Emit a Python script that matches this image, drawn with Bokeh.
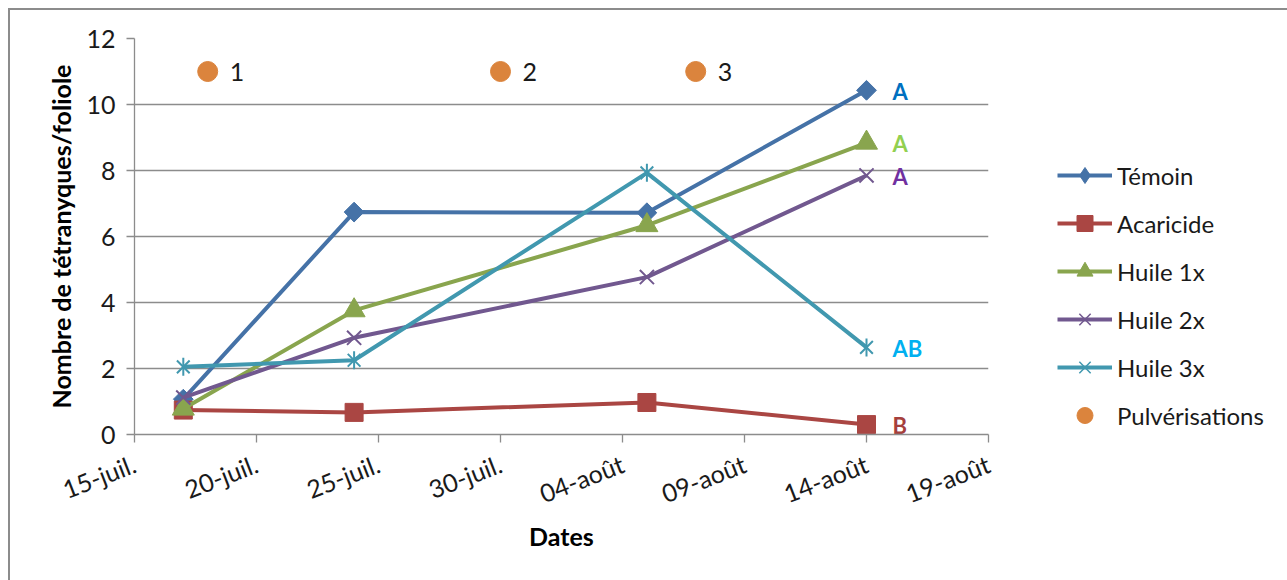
import math
import pandas as pd
from bokeh.plotting import figure
from bokeh.layouts import row
from bokeh.models import Range1d, FixedTicker, Legend, LegendItem
from bokeh.core.properties import value
from bokeh.embed import file_html
from bokeh.resources import INLINE

# Sampling dates and mean counts per leaflet for each treatment
dates = ["2013-07-17", "2013-07-24", "2013-08-05", "2013-08-14"]
temoin = [1.07, 6.74, 6.72, 10.43]
acaricide = [0.74, 0.67, 0.97, 0.30]
huile_1x = [0.78, 3.76, 6.34, 8.84]
huile_2x = [1.12, 2.93, 4.77, 7.85]
huile_3x = [2.05, 2.25, 7.93, 2.64]

# Statistical groups at the last sampling date (same order as the series)
groups = ["A", "B", "A", "A", "AB"]

# Spray applications
spray_dates = ["2013-07-18", "2013-07-30", "2013-08-07"]
spray_level = [11, 11, 11]
spray_labels = ["1", "2", "3"]

# Axis ticks
tick_dates = ["2013-07-15", "2013-07-20", "2013-07-25", "2013-07-30",
              "2013-08-04", "2013-08-09", "2013-08-14", "2013-08-19"]
tick_labels = ["15-juil.", "20-juil.", "25-juil.", "30-juil.",
               "04-août", "09-août", "14-août", "19-août"]
y_ticks = [0, 2, 4, 6, 8, 10, 12]

FONT = "Lato"
GRID = "#8c8c8c"
TEXT = "#1a1a1a"
LW = 4

x = pd.to_datetime(dates)
xs = pd.to_datetime(spray_dates)
xt = pd.to_datetime(tick_dates)
tick_ms = [float(t.value // 10**6) for t in xt]

series = [
    # label, values, colour
    ("Témoin", temoin, "#4572A7"),
    ("Acaricide", acaricide, "#AA4643"),
    ("Huile 1x", huile_1x, "#89A54E"),
    ("Huile 2x", huile_2x, "#71588F"),
    ("Huile 3x", huile_3x, "#4198AF"),
]
SPRAY_COLOR = "#DB843D"


def draw_markers(fig, name, vals, color, in_legend):
    """Markers of one series; legend swatches get the un-rotated equivalents."""
    if name == "Témoin":
        if in_legend:
            return [fig.scatter(x, vals, marker="diamond", fill_color=color, line_color=color)]
        return [fig.scatter(x, vals, marker="square", angle=math.pi / 4, size=14,
                            fill_color=color, line_color=color)]
    if name == "Acaricide":
        return [fig.scatter(x, vals, marker="square", size=18, fill_color=color, line_color=color)]
    if name == "Huile 1x":
        return [fig.scatter(x, vals, marker="triangle", size=22, fill_color=color, line_color=color)]
    if name == "Huile 2x":
        return [fig.scatter(x, vals, marker="x", size=20, line_color=color,
                            line_width=1.5 if in_legend else 2)]
    lw = 1.5 if in_legend else 2
    return [fig.scatter(x, vals, marker="x", size=18, line_color=color, line_width=lw),
            fig.scatter(x, vals, marker="dash", angle=math.pi / 2, size=18,
                        line_color=color, line_width=lw)]


# ---- main chart ----
p = figure(width=1000, height=580, x_axis_type="datetime",
           x_range=Range1d(xt[0], xt[-1]), y_range=Range1d(0, 12),
           output_backend="svg", toolbar_location=None,
           min_border_left=134, min_border_right=12,
           min_border_top=38, min_border_bottom=146)
p.background_fill_color = "white"
p.border_fill_color = None
p.outline_line_color = None
p.xgrid.grid_line_color = None
p.ygrid.grid_line_color = GRID
p.ygrid.grid_line_width = 1.3

p.xaxis.ticker = FixedTicker(ticks=tick_ms)
p.xaxis.major_label_overrides = {ms: lab for ms, lab in zip(tick_ms, tick_labels)}
p.yaxis.ticker = FixedTicker(ticks=y_ticks)
for ax in (p.xaxis, p.yaxis):
    ax.axis_line_color = GRID
    ax.axis_line_width = 1.3
    ax.major_tick_line_color = GRID
    ax.major_tick_line_width = 1.3
    ax.minor_tick_line_color = None
    ax.major_tick_in = 0
    ax.major_tick_out = 8
    ax.major_label_text_font = FONT
    ax.major_label_text_font_size = "25px"
    ax.major_label_text_color = TEXT
    ax.axis_label_text_font = FONT
    ax.axis_label_text_font_style = "bold"
    ax.axis_label_text_font_size = "25px"
    ax.axis_label_text_color = "#000000"
p.xaxis.major_label_orientation = 0.37
p.xaxis.major_label_standoff = 20
p.yaxis.major_label_standoff = 11
p.xaxis.axis_label = "Dates"
p.yaxis.axis_label = "Nombre de tétranyques/foliole"
p.xaxis.axis_label_standoff = -4
p.yaxis.axis_label_standoff = 7

for name, vals, color in series:
    p.line(x, vals, line_color=color, line_width=LW)
    draw_markers(p, name, vals, color, in_legend=False)

p.scatter(xs, spray_level, marker="circle", size=20,
          fill_color=SPRAY_COLOR, line_color=SPRAY_COLOR)
p.text(xs, spray_level, text=spray_labels, x_offset=22,
       text_baseline="middle", text_align="left",
       text_font=value(FONT), text_font_size="25px", text_color=TEXT)

last_x = [x[-1]] * 5
last_y = [vals[-1] for _, vals, _ in series]
group_colors = ["#0070C0", "#A5403D", "#92D050", "#7030A0", "#00B0F0"]
p.text(last_x, last_y, text=groups, x_offset=26, y_offset=1,
       text_baseline="middle", text_align="left",
       text_font=value(FONT), text_font_style="bold", text_font_size="22px",
       text_color=group_colors)

# ---- legend panel (its renderers fall outside its own ranges) ----
q = figure(width=287, height=580, x_range=Range1d(0, 1), y_range=Range1d(0, 1),
           x_axis_location=None, y_axis_location=None,
           output_backend="svg", toolbar_location=None, min_border=0)
q.grid.visible = False
q.outline_line_color = None
q.background_fill_color = None
q.border_fill_color = None

items = []
for name, vals, color in series:
    ln = q.line(x, vals, line_color=color, line_width=LW)
    items.append(LegendItem(label=name, renderers=[ln] + draw_markers(q, name, vals, color, True)))
sw = q.scatter(xs, spray_level, marker="circle", fill_color=SPRAY_COLOR, line_color=SPRAY_COLOR)
items.append(LegendItem(label="Pulvérisations", renderers=[sw]))

# the row aligns this panel's frame with the chart frame (y 38..434)
legend = Legend(items=items, location=(57, -1), padding=0, margin=0,
                spacing=8, glyph_width=55, glyph_height=40, label_height=40,
                label_standoff=5, border_line_color=None,
                background_fill_alpha=0,
                label_text_font=FONT, label_text_font_size="24px",
                label_text_color=TEXT)
q.add_layout(legend, "center")

layout = row(p, q, spacing=0)
# frame of the chart area: left and top edges inset from the page corner
layout.styles = {
    "background": (f"linear-gradient({GRID}, {GRID}) 8px 8px / 2px 100% no-repeat, "
                   f"linear-gradient({GRID}, {GRID}) 8px 8px / 100% 2px no-repeat, "
                   "#ffffff")
}

open("out.html", "w").write(file_html(layout, INLINE))
